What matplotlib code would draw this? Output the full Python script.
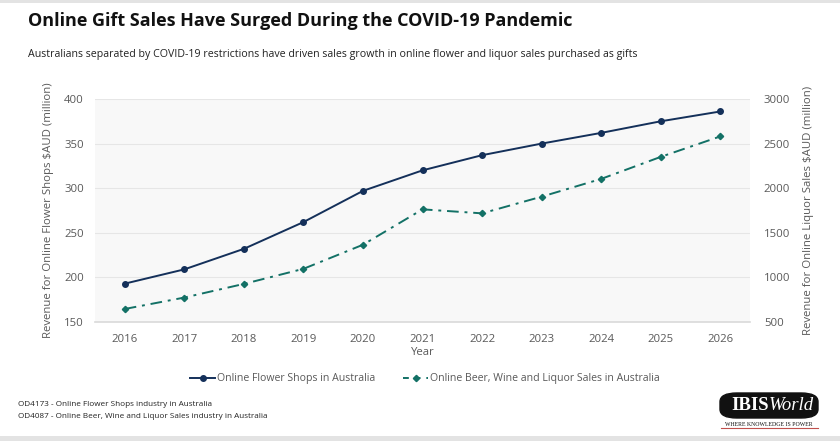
import matplotlib
matplotlib.use("Agg")
import matplotlib.pyplot as plt
from matplotlib.patches import FancyBboxPatch, Rectangle
from matplotlib.lines import Line2D

years = [2016, 2017, 2018, 2019, 2020, 2021, 2022, 2023, 2024, 2025, 2026]
flower = [193, 209, 232, 262, 297, 320, 337, 350, 362, 375, 386]
liquor = [646, 774, 927, 1096, 1366, 1763, 1718, 1905, 2104, 2351, 2580]
left_ticks = [150, 200, 250, 300, 350, 400]
right_ticks = [500, 1000, 1500, 2000, 2500, 3000]

title = "Online Gift Sales Have Surged During the COVID-19 Pandemic"
subtitle = ("Australians separated by COVID-19 restrictions have driven sales growth in "
            "online flower and liquor sales purchased as gifts")
flower_name = "Online Flower Shops in Australia"
liquor_name = "Online Beer, Wine and Liquor Sales in Australia"
notes = ["OD4173 - Online Flower Shops industry in Australia",
         "OD4087 - Online Beer, Wine and Liquor Sales industry in Australia"]

NAVY = "#14305a"
TEAL = "#137166"
GREY = "#595959"

plt.rcParams['font.family'] = ['Open Sans', 'DejaVu Sans']

W, H = 840, 441
fig = plt.figure(figsize=(W / 100, H / 100), dpi=100)
fig.patch.set_facecolor("white")

def fx(px):
    return px / W

def fy(py):
    return 1 - py / H

# top and bottom grey bands
fig.add_artist(Rectangle((0, fy(3)), 1, 3 / H, transform=fig.transFigure,
                         color="#e3e3e3", lw=0))
fig.add_artist(Rectangle((0, 0), 1, 5 / H, transform=fig.transFigure,
                         color="#e3e3e3", lw=0))

fig.text(fx(28), fy(21), title, fontsize=13.0, fontweight="bold", color="#111111",
         va="center", ha="left")
fig.text(fx(28), fy(55), subtitle, fontsize=7.65, color="#222222", va="center", ha="left")

ax = fig.add_axes([fx(95), fy(322), fx(750) - fx(95), (322 - 99) / H])
ax.set_facecolor("#f8f8f8")
ax.plot(years, flower, color=NAVY, lw=1.4, marker="o", ms=4, label=flower_name)
ax.set_xlim(2015.5, 2026.5)
ax.set_ylim(150, 400)
ax.set_yticks(left_ticks)
ax.set_xticks(years)
ax.grid(axis="y", color="#e6e6e6", lw=0.8)
ax.set_axisbelow(True)
for s in ["top", "right", "left"]:
    ax.spines[s].set_visible(False)
ax.spines["bottom"].set_color("#d9d9d9")
ax.spines["bottom"].set_linewidth(1.2)
ax.tick_params(axis="both", length=0, colors=GREY, labelsize=8.2)
ax.tick_params(axis="x", pad=9)
ax.tick_params(axis="y", pad=8)
ax.set_xlabel("Year", color=GREY, fontsize=8.2, labelpad=1)
ax.set_ylabel("Revenue for Online Flower Shops $AUD (million)", color=GREY,
              fontsize=8.2, labelpad=7)

ax2 = ax.twinx()
ax2.plot(years, liquor, color=TEAL, lw=1.4, ls=(0, (6, 3, 1.5, 3)), marker="D", ms=3.2,
         label=liquor_name)
ax2.set_ylim(500, 3000)
ax2.set_yticks(right_ticks)
for s in ax2.spines.values():
    s.set_visible(False)
ax2.tick_params(axis="y", length=0, colors=GREY, labelsize=8.2, pad=10)
ax2.set_ylabel("Revenue for Online Liquor Sales $AUD (million)", color=GREY,
               fontsize=8.2, labelpad=9)

handles = [Line2D([], [], color=NAVY, lw=1.4, marker="o", ms=4),
           Line2D([], [], color=TEAL, lw=1.4, ls=(0, (3, 3)), marker="D", ms=3.2)]
fig.legend(handles, [flower_name, liquor_name], loc="center",
           bbox_to_anchor=(fx(425), fy(379)), ncol=2, frameon=False,
           fontsize=7.6, labelcolor=GREY, handlelength=2.4, handletextpad=0.2,
           columnspacing=2.6)

for i, n in enumerate(notes):
    fig.text(fx(18), fy(404 + 13 * i), n, fontsize=5.9, color="#222222",
             va="center", ha="left")

# IBISWorld logo
logo = FancyBboxPatch((fx(720), fy(418)), fx(98), 25 / H,
                      boxstyle="round,pad=0,rounding_size=0.02",
                      transform=fig.transFigure, facecolor="#111111",
                      edgecolor="#111111")
fig.add_artist(logo)
fig.text(fx(769), fy(405.5), "IBIS", fontsize=13.5, color="white", fontweight="bold",
         family="Liberation Serif", ha="right", va="center")
fig.text(fx(769), fy(405.5), "World", fontsize=13.5, color="white", style="italic",
         family="Liberation Serif", ha="left", va="center")
fig.text(fx(769), fy(424), "WHERE KNOWLEDGE IS POWER", fontsize=4.2, color="#111111",
         family="Liberation Serif", ha="center", va="center")
fig.add_artist(Line2D([fx(721), fx(818)], [fy(428), fy(428)], color="#c0504d", lw=0.8,
                      transform=fig.transFigure))

fig.savefig("out.png", dpi=100, facecolor="white")
